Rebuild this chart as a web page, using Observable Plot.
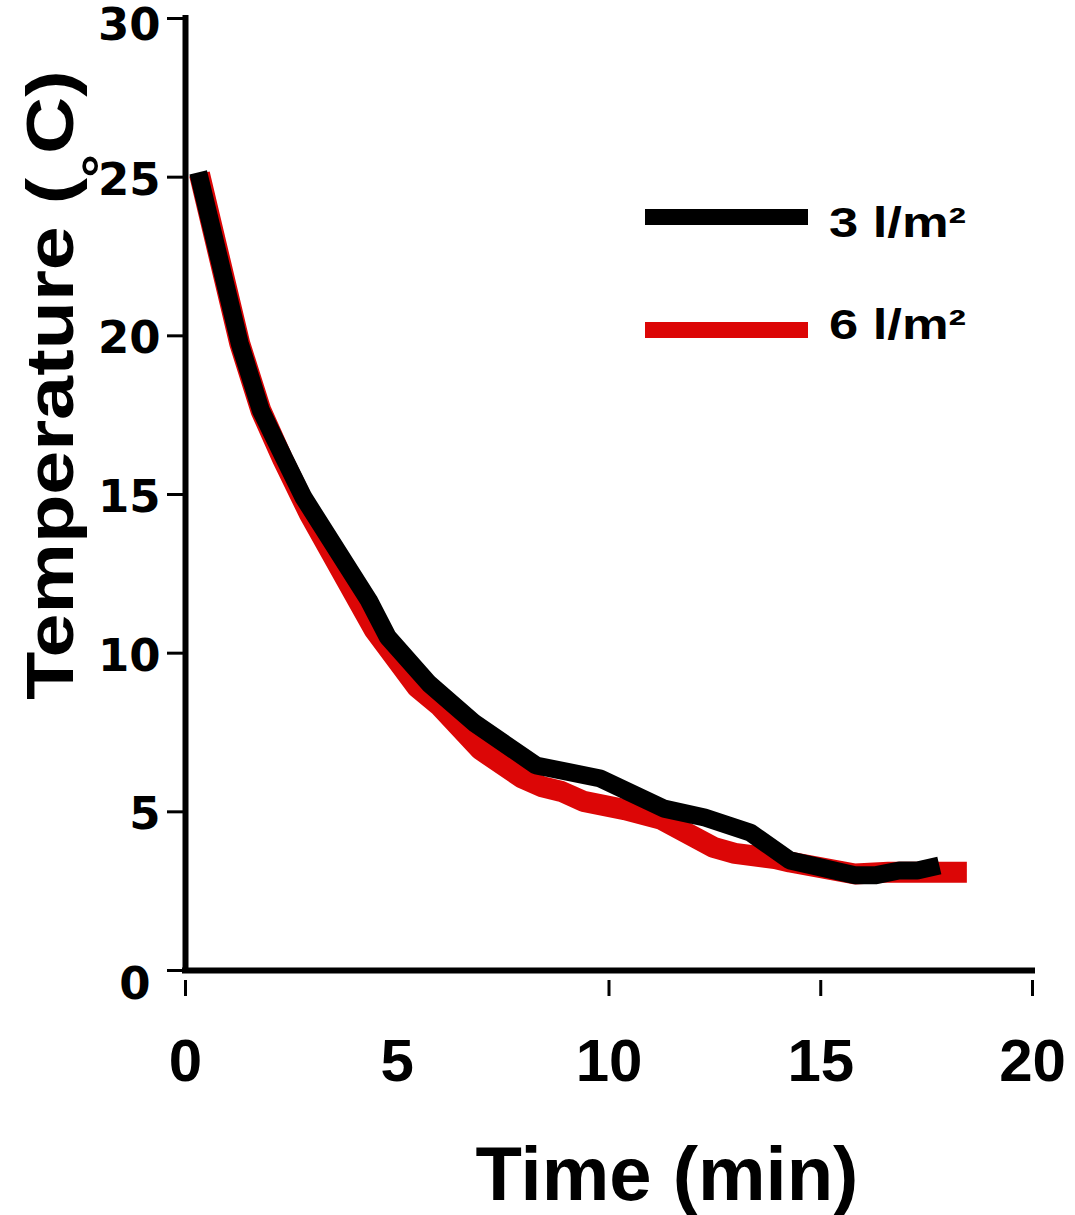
<!DOCTYPE html>
<html><head><meta charset="utf-8">
<script src="https://cdn.jsdelivr.net/npm/d3@7"></script>
<script src="https://cdn.jsdelivr.net/npm/@observablehq/plot@0.6"></script>
<style>body{margin:0;background:#fff} svg{display:block}</style>
</head><body><div id="chart"></div>
<script>
// Series: 3 l/m² (black)
const time3 = [0.30, 1.28, 1.78, 2.32, 2.79, 4.33, 4.78, 5.75, 6.82, 8.28, 9.80, 11.30, 12.26, 12.83, 13.33, 14.27, 15.81, 16.28, 16.85, 17.28, 17.80];
const temp3 = [25.15, 19.76, 17.65, 16.17, 14.90, 11.66, 10.50, 9.04, 7.80, 6.46, 6.05, 5.10, 4.82, 4.57, 4.35, 3.47, 3.00, 3.00, 3.15, 3.15, 3.31];
// Series: 6 l/m² (red)
const time6 = [0.33, 1.28, 1.78, 2.30, 2.93, 4.45, 5.47, 5.99, 6.96, 7.93, 8.40, 8.88, 9.40, 10.37, 11.24, 12.47, 12.97, 13.92, 14.27, 15.81, 16.60, 18.45];
const temp6 = [25.10, 19.76, 17.65, 16.10, 14.37, 10.75, 8.92, 8.35, 6.96, 6.08, 5.80, 5.64, 5.33, 5.07, 4.76, 3.88, 3.69, 3.53, 3.42, 3.04, 3.10, 3.10];

const seriesNames = ["3 l/m\u00B2", "6 l/m\u00B2"];
const seriesColors = ["#000000", "#dc0606"];
const yTicks = [0, 5, 10, 15, 20, 25, 30];
const xTickLabels = [0, 5, 10, 15, 20];
const xTickMarks = [0, 10, 15, 20];
const xTitle = "Time (min)";
const yTitleMain = "Temperature (";
const yTitleDeg = "\u00B0";
const yTitleEnd = "C)";

const s3 = time3.map((t, i) => ({x: t, y: temp3[i]}));
const s6 = time6.map((t, i) => ({x: t, y: temp6[i]}));

const sansBold = {fontFamily: "'Liberation Sans', Arial, sans-serif", fontWeight: "bold"};
const yLabelFont = {fontSize: 45, fontFamily: "'DejaVu Sans', sans-serif", fontWeight: "bold"};

const chart = Plot.plot({
  width: 1075,
  height: 1215,
  marginLeft: 185,
  marginRight: 43,
  marginTop: 18,
  marginBottom: 245,
  x: {domain: [0, 20]},
  y: {domain: [0, 30]},
  style: {background: "#fff", color: "#000"},
  marks: [
    Plot.line(s6, {x: "x", y: "y", stroke: seriesColors[1], strokeWidth: 21, strokeLinejoin: "miter", strokeLinecap: "butt"}),
    Plot.line(s3, {x: "x", y: "y", stroke: seriesColors[0], strokeWidth: 18, strokeLinejoin: "miter", strokeLinecap: "butt"}),
    Plot.ruleX([0], {strokeWidth: 6, strokeLinecap: "square"}),
    Plot.ruleY([0], {strokeWidth: 6, strokeLinecap: "square"}),
    Plot.axisY({ticks: yTicks, tickSize: 18, tickPadding: 7, strokeWidth: 3, text: null, label: null}),
    Plot.axisY({ticks: yTicks.filter(d => d > 0 && d < 30), tickSize: 0, tickPadding: 25, dy: 3,
      tickFormat: d => String(d), ...yLabelFont, label: null}),
    Plot.axisY({ticks: [30], tickSize: 0, tickPadding: 25, dy: 7,
      tickFormat: d => String(d), ...yLabelFont, label: null}),
    Plot.axisY({ticks: [0], tickSize: 0, tickPadding: 35, dy: 14,
      tickFormat: d => String(d), ...yLabelFont, label: null}),
    Plot.axisX({ticks: xTickMarks, tickSize: 16, dy: 10, strokeWidth: 3, tickFormat: () => "", label: null}),
    Plot.axisX({ticks: xTickLabels, tickSize: 0, tickPadding: 68, tickFormat: d => String(d),
      fontSize: 60, ...sansBold, label: null})
  ]
});

document.getElementById("chart").appendChild(chart);
const svg = d3.select(chart);

// Y title
const yt = svg.append("text")
  .attr("transform", "translate(73,700) rotate(-90) scale(1.2,1)")
  .attr("font-family", "'Liberation Sans', Arial, sans-serif")
  .attr("font-weight", "bold")
  .attr("font-size", 66)
  .attr("fill", "#000")
  .attr("text-anchor", "start");
yt.append("tspan").text(yTitleMain);
yt.append("tspan").attr("font-size", 50).attr("dy", 44).text(yTitleDeg);
yt.append("tspan").attr("dy", -44).text(yTitleEnd);

// X title
svg.append("text")
  .attr("x", 667).attr("y", 1200)
  .attr("font-family", "'Liberation Sans', Arial, sans-serif")
  .attr("font-weight", "bold")
  .attr("font-size", 76)
  .attr("fill", "#000")
  .attr("text-anchor", "middle")
  .text(xTitle);

// Legend
const legendY = [217, 330];
const legendTextY = [237, 339];
seriesNames.forEach((name, i) => {
  svg.append("line")
    .attr("x1", 645).attr("x2", 808)
    .attr("y1", legendY[i]).attr("y2", legendY[i])
    .attr("stroke", seriesColors[i]).attr("stroke-width", 16);
  svg.append("text")
    .attr("transform", `translate(829,${legendTextY[i]}) scale(1.25,1)`)
    .attr("font-family", "'Liberation Sans', Arial, sans-serif")
    .attr("font-weight", "bold")
    .attr("font-size", 42)
    .attr("fill", "#000")
    .attr("text-anchor", "start")
    .text(name);
});
</script>
</body></html>
